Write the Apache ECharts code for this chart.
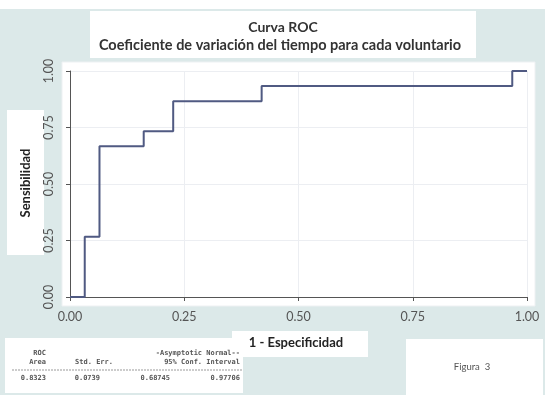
<!DOCTYPE html>
<html><head><meta charset="utf-8">
<script src="https://cdn.jsdelivr.net/npm/echarts@6/dist/echarts.min.js"></script>
<style>html,body{margin:0;padding:0;background:#fff}#c{width:545px;height:395px}</style>
</head><body><div id="c"></div>
<script>
// ROC curve: 15 positives, 31 negatives (read from the step positions)
const fpr = [0, 1/31, 2/31, 5/31, 7/31, 13/31, 30/31, 1];
const tpr = [0, 4/15, 10/15, 11/15, 13/15, 14/15, 1, 1];
const xTicks = [0, 0.25, 0.5, 0.75, 1];
const yTicks = [0, 0.25, 0.5, 0.75, 1];
const titleLines = ['Curva ROC', 'Coeficiente de variación del tiempo para cada voluntario'];
const tableHead1 = ['ROC', '', '-Asymptotic Normal--'];
const tableHead2 = ['Area', 'Std. Err.', '95% Conf. Interval'];
const tableVals = ['0.8323', '0.0739', '0.68745', '0.97706'];

const chart = echarts.init(document.getElementById('c'), null, {renderer: 'canvas'});
const mono = 'DejaVu Sans Mono';
const tcol = '#555';
const bg = '#dce9e9';
const tf = 'bold 7px ' + mono;
chart.setOption({
  backgroundColor: bg,
  animation: false,
  graphic: [
    {type: 'rect', shape: {x: 0, y: 0, width: 545, height: 9}, style: {fill: '#fff'}, z: -10},
    {type: 'rect', shape: {x: 62, y: 62, width: 473, height: 244}, style: {fill: '#fff', stroke: '#eef1f3'}, z: -10},
    {type: 'rect', shape: {x: 90, y: 11, width: 386, height: 47}, style: {fill: '#fff'}, z: -9},
    {type: 'text', x: 283, y: 27, style: {text: titleLines[0], font: 'bold 14px Lato', fill: '#333', align: 'center', verticalAlign: 'middle'}},
    {type: 'text', x: 280, y: 45, style: {text: titleLines[1], font: 'bold 14.5px Lato', fill: '#333', align: 'center', verticalAlign: 'middle'}},
    {type: 'rect', shape: {x: 7, y: 110, width: 37, height: 145}, style: {fill: '#fff'}, z: -9},
    {type: 'text', x: 26, y: 183, rotation: Math.PI / 2, style: {text: 'Sensibilidad', font: 'bold 13px Lato', fill: '#222', align: 'center', verticalAlign: 'middle'}},
    {type: 'rect', shape: {x: 232, y: 331, width: 136, height: 26}, style: {fill: '#fff'}, z: -9},
    {type: 'text', x: 296, y: 343, style: {text: '1 - Especificidad', font: 'bold 13px Lato', fill: '#222', align: 'center', verticalAlign: 'middle'}},
    {type: 'rect', shape: {x: 5, y: 338, width: 238, height: 55}, style: {fill: '#fff'}, z: -9},
    {type: 'rect', shape: {x: 406, y: 339, width: 137, height: 56}, style: {fill: '#fff'}, z: -9},
    {type: 'text', x: 472, y: 367, style: {text: 'Figura  3', font: '9.5px Lato', fill: '#555', align: 'center', verticalAlign: 'middle'}},
    // table
    {type: 'text', x: 46, y: 353, style: {text: tableHead1[0], font: tf, fill: tcol, align: 'right', verticalAlign: 'middle'}},
    {type: 'text', x: 240, y: 353, style: {text: tableHead1[2], font: tf, fill: tcol, align: 'right', verticalAlign: 'middle'}},
    {type: 'text', x: 46, y: 362, style: {text: tableHead2[0], font: tf, fill: tcol, align: 'right', verticalAlign: 'middle'}},
    {type: 'text', x: 113, y: 362, style: {text: tableHead2[1], font: tf, fill: tcol, align: 'right', verticalAlign: 'middle'}},
    {type: 'text', x: 240, y: 362, style: {text: tableHead2[2], font: tf, fill: tcol, align: 'right', verticalAlign: 'middle'}},
    {type: 'line', shape: {x1: 12, y1: 370, x2: 242, y2: 370}, style: {stroke: '#999', lineWidth: 1, lineDash: [2, 1]}},
    {type: 'text', x: 46, y: 378, style: {text: tableVals[0], font: tf, fill: tcol, align: 'right', verticalAlign: 'middle'}},
    {type: 'text', x: 100, y: 378, style: {text: tableVals[1], font: tf, fill: tcol, align: 'right', verticalAlign: 'middle'}},
    {type: 'text', x: 170, y: 378, style: {text: tableVals[2], font: tf, fill: tcol, align: 'right', verticalAlign: 'middle'}},
    {type: 'text', x: 240, y: 378, style: {text: tableVals[3], font: tf, fill: tcol, align: 'right', verticalAlign: 'middle'}}
  ],
  grid: {left: 70, right: 18, top: 71, bottom: 98, containLabel: false},
  xAxis: {
    type: 'value', min: xTicks[0], max: xTicks[xTicks.length - 1], interval: 0.25, offset: 9,
    axisLine: {show: true, lineStyle: {color: '#555', width: 1}},
    axisTick: {show: true, length: 4, lineStyle: {color: '#555'}},
    axisLabel: {color: '#555', fontSize: 12.5, fontFamily: 'Lato', margin: 4, formatter: v => v.toFixed(2)},
    splitLine: {show: true, lineStyle: {color: '#eceef2', width: 1}}
  },
  yAxis: {
    type: 'value', min: yTicks[0], max: yTicks[yTicks.length - 1], interval: 0.25, offset: 8,
    axisLine: {show: true, lineStyle: {color: '#555', width: 1}},
    axisTick: {show: true, length: 4, lineStyle: {color: '#555'}},
    axisLabel: {color: '#555', fontSize: 12.5, fontFamily: 'Lato', margin: 7, rotate: 90, formatter: v => v.toFixed(2)},
    splitLine: {show: true, lineStyle: {color: '#eceef2', width: 1}}
  },
  series: [{
    type: 'line', step: 'end', symbol: 'none',
    data: fpr.map((x, i) => [x, tpr[i]]),
    lineStyle: {color: '#505a82', width: 2},
    itemStyle: {color: '#505a82'}
  }]
});
</script></body></html>
